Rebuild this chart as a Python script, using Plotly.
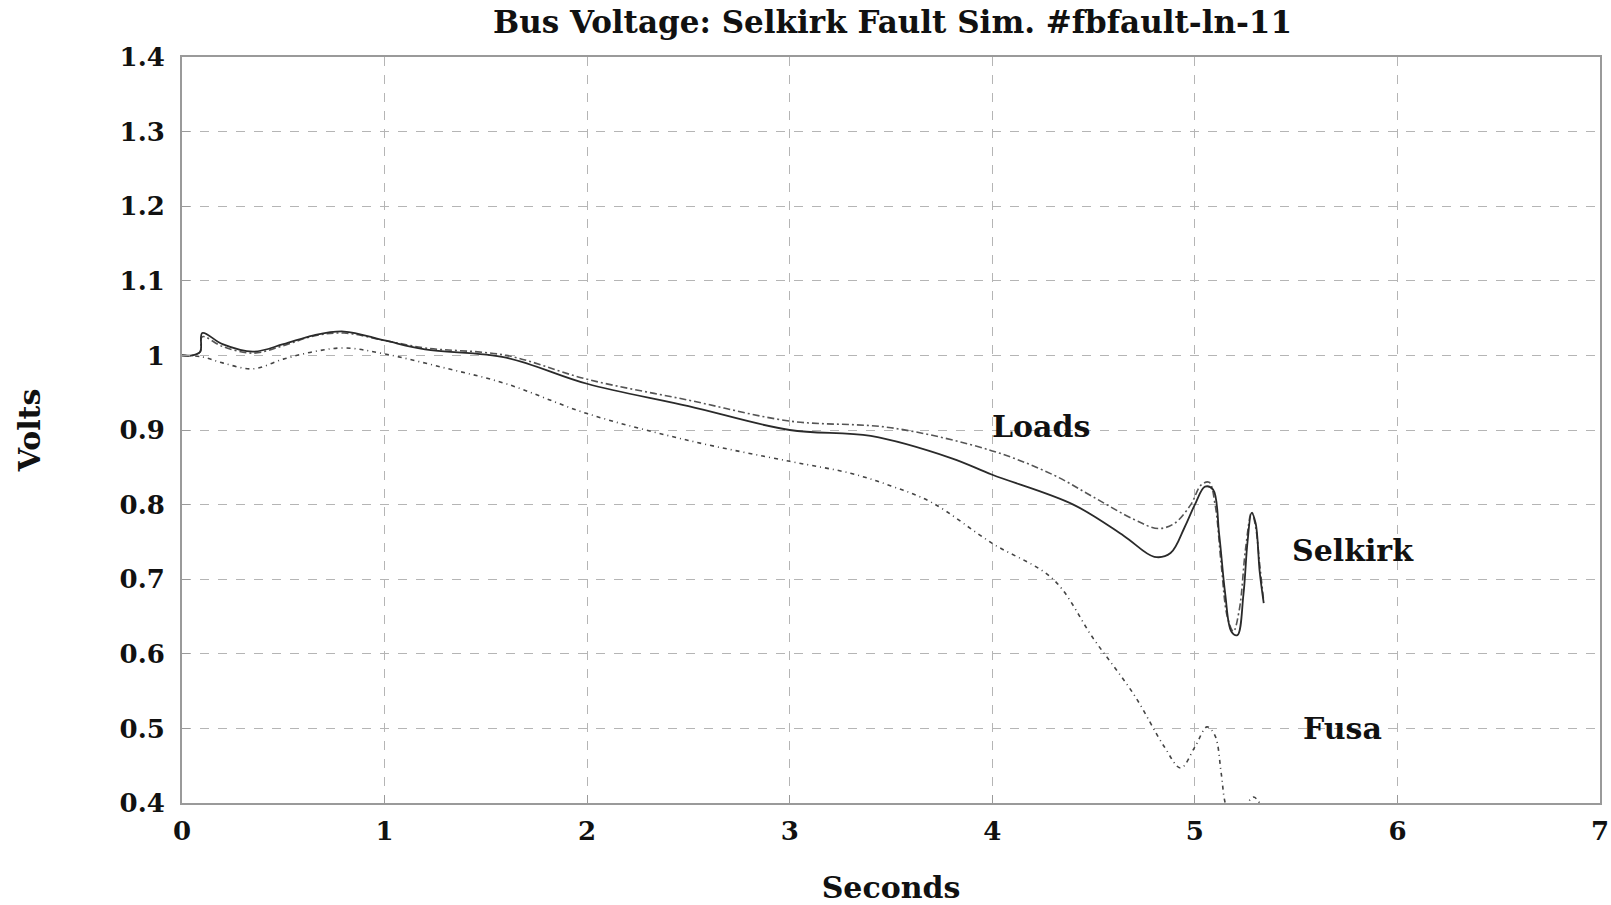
import plotly.graph_objects as go

# Bus voltage traces (per-unit) versus time in seconds
selkirk_t = [0, 0.05, 0.09, 0.1, 0.2, 0.35, 0.5, 0.65, 0.8, 1.0, 1.2, 1.6, 2.0, 2.5, 3.0, 3.4, 3.8,
             4.0, 4.4, 4.65, 4.8, 4.88, 4.95, 5.0, 5.05, 5.09, 5.12, 5.15, 5.18, 5.21, 5.24, 5.26,
             5.28, 5.30, 5.32, 5.34]
selkirk_v = [1.0, 1.0, 1.005, 1.03, 1.015, 1.005, 1.015, 1.027, 1.032, 1.02, 1.008, 0.997, 0.962,
             0.932, 0.9, 0.892, 0.862, 0.84, 0.8, 0.758, 0.73, 0.735, 0.77, 0.8, 0.824, 0.82, 0.76,
             0.68, 0.63, 0.625, 0.68, 0.75, 0.789, 0.775, 0.71, 0.668]

loads_t = [0, 0.05, 0.09, 0.1, 0.2, 0.35, 0.5, 0.65, 0.8, 1.0, 1.2, 1.6, 2.0, 2.5, 3.0, 3.5, 4.0,
           4.3, 4.5, 4.7, 4.82, 4.9, 4.98, 5.03, 5.07, 5.1, 5.13, 5.16, 5.19, 5.22, 5.25, 5.28,
           5.30, 5.32, 5.34]
loads_v = [1.0, 1.0, 1.005, 1.025, 1.012, 1.003, 1.013, 1.026, 1.03, 1.02, 1.01, 1.0, 0.968, 0.94,
           0.912, 0.903, 0.872, 0.84, 0.81, 0.78, 0.768, 0.775, 0.80, 0.826, 0.83, 0.8, 0.72, 0.65,
           0.63, 0.66, 0.74, 0.79, 0.77, 0.72, 0.67]

fusa_t = [0, 0.1, 0.2, 0.35, 0.5, 0.65, 0.8, 1.0, 1.3, 1.6, 2.0, 2.5, 3.0, 3.3, 3.5, 3.7, 4.0, 4.3,
          4.5, 4.7, 4.85, 4.93, 5.0, 5.06, 5.1, 5.13, 5.15, 5.18, 5.22, 5.26, 5.29, 5.32]
fusa_v = [1.0, 0.998, 0.99, 0.982, 0.995, 1.005, 1.01, 1.002, 0.983, 0.962, 0.922, 0.886, 0.858,
          0.842, 0.825, 0.803, 0.748, 0.7, 0.62, 0.545, 0.475, 0.447, 0.475, 0.502, 0.49, 0.44,
          0.40, 0.38, 0.385, 0.40, 0.408, 0.40]

x_ticks = [0, 1, 2, 3, 4, 5, 6, 7]
y_ticks = [0.4, 0.5, 0.6, 0.7, 0.8, 0.9, 1.0, 1.1, 1.2, 1.3, 1.4]
y_tick_text = ["0.4", "0.5", "0.6", "0.7", "0.8", "0.9", "1", "1.1", "1.2", "1.3", "1.4"]

labels = [("Loads", 4.24, 0.905), ("Selkirk", 5.78, 0.738), ("Fusa", 5.73, 0.50)]

ink = "#2a2a2a"
font_family = "DejaVu Serif, Liberation Serif, serif"

fig = go.Figure()
fig.add_trace(go.Scatter(x=loads_t, y=loads_v, mode="lines", line_shape="spline",
                         line=dict(color="#555", width=1.6, dash="7px,3px,2px,3px")))
fig.add_trace(go.Scatter(x=selkirk_t, y=selkirk_v, mode="lines", line_shape="spline",
                         line=dict(color=ink, width=1.8)))
fig.add_trace(go.Scatter(x=fusa_t, y=fusa_v, mode="lines", line_shape="spline",
                         line=dict(color="#444", width=1.6, dash="4px,4px,1px,4px")))

for text, lx, ly in labels:
    fig.add_annotation(x=lx, y=ly, text=f"<b>{text}</b>", showarrow=False,
                       font=dict(family=font_family, size=30, color="#111"))

axis_common = dict(showline=True, mirror=True, linecolor="#9a9a9a", linewidth=2,
                   showgrid=True, gridcolor="#b5b5b5", gridwidth=1.3, griddash="dash",
                   ticks="inside", ticklen=8, tickcolor="#9a9a9a", zeroline=False,
                   ticklabeloverflow="allow", automargin=False,
                   tickfont=dict(family=font_family, size=26, color="#111"))

fig.update_xaxes(range=[0, 7], tickvals=x_ticks, ticktext=[f"<b>{t}</b>" for t in x_ticks],
                 ticklabelstandoff=4, **axis_common,
                 title=dict(text="<b>Seconds</b>", standoff=40,
                            font=dict(family=font_family, size=30, color="#111")))
fig.update_yaxes(range=[0.4, 1.4], tickvals=y_ticks, ticktext=[f"<b>{t}</b>" for t in y_tick_text],
                 ticklabelstandoff=10, **axis_common,
                 title=dict(text="<b>Volts</b>", standoff=70,
                            font=dict(family=font_family, size=30, color="#111")))

fig.update_layout(
    width=1611, height=905,
    margin=dict(l=182, r=11, t=57, b=102),
    paper_bgcolor="white", plot_bgcolor="white",
    showlegend=False,
    title=dict(text="<b>Bus Voltage: Selkirk Fault Sim. #fbfault-ln-11</b>",
               x=0.554, xanchor="center", y=0.975, yanchor="middle",
               font=dict(family=font_family, size=31, color="#111")),
)

fig.write_html("out.html")
